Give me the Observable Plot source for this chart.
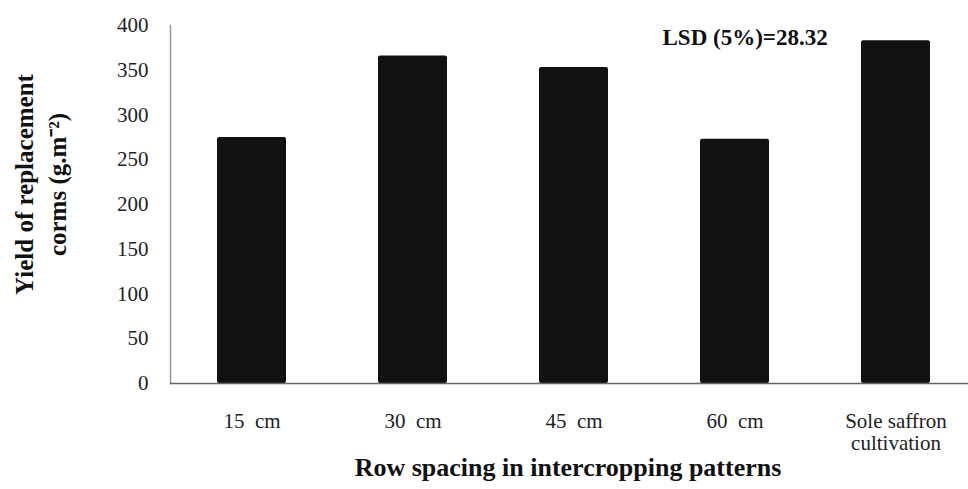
<!DOCTYPE html>
<html><head><meta charset="utf-8">
<script src="https://cdn.jsdelivr.net/npm/d3@7"></script>
<script src="https://cdn.jsdelivr.net/npm/@observablehq/plot@0.6"></script>
<style>body{margin:0;background:#fff}</style>
</head><body><div id="chart"></div>
<script>
const categories = ["15  cm", "30  cm", "45  cm", "60  cm", "Sole saffron\ncultivation"];
const yieldValues = [275, 366, 353, 273, 383];
const yTicks = [0, 50, 100, 150, 200, 250, 300, 350, 400];
const xTitle = "Row spacing in intercropping patterns";
const yTitle = "Yield of replacement\ncorms (g.m\u207B\u00B2)";
const lsdText = "LSD (5%)=28.32";

const data = categories.map((c, i) => ({category: c, value: yieldValues[i]}));
const serif = "'Liberation Serif', 'Times New Roman', serif";

const chart = Plot.plot({
  width: 968,
  height: 489,
  marginLeft: 170,
  marginRight: -9,
  marginTop: 25,
  marginBottom: 106,
  style: {fontFamily: serif, fontSize: "21px", color: "#222", background: "#fff"},
  x: {domain: categories, paddingInner: 0.57, paddingOuter: 0.29, label: null, axis: null},
  y: {domain: [0, 400], ticks: yTicks, label: null, axis: null},
  marks: [
    Plot.axisY(yTicks, {tickSize: 0, tickPadding: 22, fontSize: 21, fontFamily: serif, label: null, fill: "#222"}),
    Plot.axisX({tickSize: 0, tickPadding: 29, fontSize: 21, fontFamily: serif, lineHeight: 1.04, label: null, fill: "#222",
      tickFormat: d => d.replace("  ", "\u00a0 ")}),
    Plot.frame({anchor: "left", stroke: "#999", strokeWidth: 1.5}),
    Plot.barY(data, {x: "category", y: "value", fill: "#111", rx: 2}),
    Plot.ruleY([0], {stroke: "#666", strokeWidth: 1.5}),
    Plot.text([xTitle], {text: d => d, frameAnchor: "bottom", dy: 92, dx: -6,
      fontFamily: serif, fontWeight: "bold", fontSize: 26, fill: "#111"}),
    Plot.text([yTitle], {text: d => d, frameAnchor: "left", textAnchor: "middle", dx: -132, dy: -20, rotate: -90,
      fontFamily: serif, fontWeight: "bold", fontSize: 25, lineHeight: 1.32, fill: "#111"}),
    Plot.text([lsdText], {text: d => d, frameAnchor: "top-left", dx: 492, dy: 3,
      textAnchor: "start", fontFamily: serif, fontWeight: "bold", fontSize: 23, fill: "#111"})
  ]
});
document.getElementById("chart").appendChild(chart);
</script>
</body></html>
